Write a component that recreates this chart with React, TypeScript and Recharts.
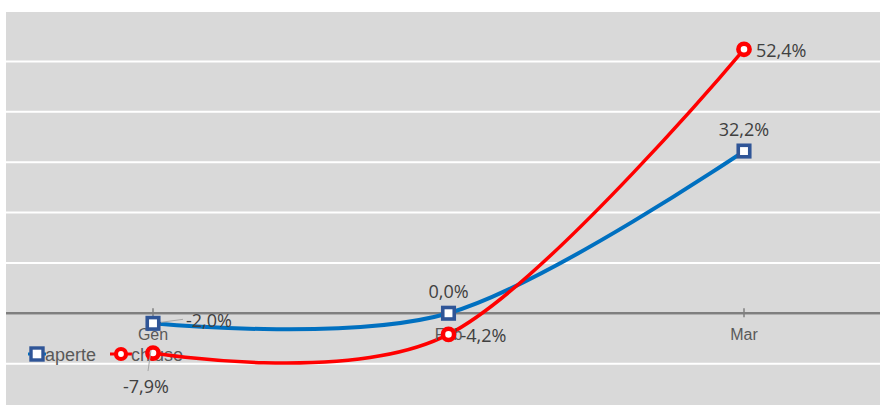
import React from 'react';
import { LineChart, Line, XAxis, YAxis, CartesianGrid, ReferenceLine, ReferenceDot, LabelList } from 'recharts';

const months = ['Gen', 'Feb', 'Mar'];
const aperte = [-2.0, 0.0, 32.2];
const chiuse = [-7.9, -4.2, 52.4];
const yTicks = [-20, -10, 0, 10, 20, 30, 40, 50, 60];

const chartData = months.map((m, i) => ({ name: m, aperte: aperte[i], chiuse: chiuse[i] }));

const BLUE = '#0070C0';
const BLUE_EDGE = '#2F5597';
const RED = '#FF0000';
const LABEL_FONT = "'Open Sans', 'DejaVu Sans', sans-serif";
const AXIS_FONT = "'Liberation Sans Narrow', 'Liberation Sans', Arial, sans-serif";

// Excel-like smoothing: cardinal spline with tension 0 (same as d3 curveCardinal)
class CardinalCurve {
  _context: any;
  _k: number;
  _line: number = NaN;
  _point = 0;
  _x0 = NaN; _x1 = NaN; _x2 = NaN;
  _y0 = NaN; _y1 = NaN; _y2 = NaN;
  constructor(context: any, tension: number) {
    this._context = context;
    this._k = (1 - tension) / 6;
  }
  areaStart() { this._line = 0; }
  areaEnd() { this._line = NaN; }
  lineStart() {
    this._x0 = this._x1 = this._x2 = this._y0 = this._y1 = this._y2 = NaN;
    this._point = 0;
  }
  bez(x: number, y: number) {
    this._context.bezierCurveTo(
      this._x1 + this._k * (this._x2 - this._x0),
      this._y1 + this._k * (this._y2 - this._y0),
      this._x2 + this._k * (this._x1 - x),
      this._y2 + this._k * (this._y1 - y),
      this._x2,
      this._y2
    );
  }
  lineEnd() {
    switch (this._point) {
      case 2: this._context.lineTo(this._x2, this._y2); break;
      case 3: this.bez(this._x1, this._y1); break;
    }
    if (this._line || (this._line !== 0 && this._point === 1)) this._context.closePath();
    this._line = 1 - this._line;
  }
  point(x: number, y: number) {
    x = +x; y = +y;
    switch (this._point) {
      case 0:
        this._point = 1;
        this._line ? this._context.lineTo(x, y) : this._context.moveTo(x, y);
        break;
      case 1:
        this._point = 2;
        this._x1 = x; this._y1 = y;
        break;
      case 2:
        this._point = 3;
        this.bez(x, y);
        break;
      default:
        this.bez(x, y);
        break;
    }
    this._x0 = this._x1; this._x1 = this._x2; this._x2 = x;
    this._y0 = this._y1; this._y1 = this._y2; this._y2 = y;
  }
}
const smooth: any = (context: any) => new CardinalCurve(context, 0);

// label placement per point, per series
const aperteLabels = [
  { dx: 33, dy: -3, anchor: 'start', leader: [8, -1, 30, -4] },
  { dx: 0, dy: -22, anchor: 'middle' },
  { dx: 0, dy: -22, anchor: 'middle' },
];
const chiuseLabels = [
  { dx: -7, dy: 33, anchor: 'middle', leader: [-2, -3, -5, 18] },
  { dx: 12, dy: 1, anchor: 'start' },
  { dx: 12, dy: 1, anchor: 'start' },
];

const fmt = (v: number) => v.toFixed(1).replace('.', ',') + '%';

const makeLabel = (placements: any[]) => (props: any) => {
  const { x, y, value, index } = props;
  const p = placements[index];
  if (!p) return null;
  return (
    <g>
      {p.leader && (
        <line
          x1={x + p.leader[0]} y1={y + p.leader[1]}
          x2={x + p.leader[2]} y2={y + p.leader[3]}
          stroke="#a6a6a6" strokeWidth={1}
        />
      )}
      <text
        x={x + p.dx} y={y + p.dy}
        textAnchor={p.anchor} dominantBaseline="central"
        fontFamily={LABEL_FONT} fontSize={18} fill="#404040"
      >
        {fmt(value)}
      </text>
    </g>
  );
};

const SquareDot = (props: any) => {
  const { cx, cy } = props;
  if (cx == null || cy == null) return null;
  return <rect x={cx - 5.75} y={cy - 5.75} width={11.5} height={11.5} fill="#fff" stroke={BLUE_EDGE} strokeWidth={3.6} />;
};

const CircleDot = (props: any) => {
  const { cx, cy } = props;
  if (cx == null || cy == null) return null;
  return <circle cx={cx} cy={cy} r={5.6} fill="#fff" stroke={RED} strokeWidth={4.6} />;
};

const AxisTick = (props: any) => {
  const { cx, cy, label } = props;
  return (
    <g>
      <line x1={cx} x2={cx} y1={cy - 5} y2={cy + 4} stroke="#7f7f7f" strokeWidth={1.5} />
      <text x={cx} y={cy + 21} textAnchor="middle" dominantBaseline="central" fontFamily={AXIS_FONT} fontSize={16} fill="#595959">
        {label}
      </text>
    </g>
  );
};

const LegendSvg = () => (
  <g fontFamily={AXIS_FONT} fontSize={18} fill="#595959">
    <line x1={28} x2={46} y1={354} y2={354} stroke={BLUE} strokeWidth={3} />
    <rect x={31} y={348} width={12} height={12} fill="#fff" stroke={BLUE_EDGE} strokeWidth={3.4} />
    <text x={45} y={355} dominantBaseline="central">aperte</text>
    <line x1={110} x2={132} y1={354} y2={354} stroke={RED} strokeWidth={3} />
    <circle cx={121} cy={354} r={5} fill="#fff" stroke={RED} strokeWidth={4.2} />
    <text x={131} y={355} dominantBaseline="central">chiuse</text>
  </g>
);

export default function App() {
  return (
    <div style={{ position: 'fixed', left: 0, top: 0, width: 880, height: 405, overflow: 'hidden', background: '#fff' }}>
      <LineChart width={891} height={414} data={chartData} margin={{ top: 11, right: 0, bottom: 0, left: 6 }}>
        <CartesianGrid vertical={false} fill="#d9d9d9" stroke="#ffffff" strokeWidth={2} />
        <XAxis dataKey="name" hide padding={{ left: 147, right: 147 }} />
        <YAxis hide domain={[-20, 60]} ticks={yTicks} />
        <ReferenceLine y={0} stroke="#7f7f7f" strokeWidth={2.5} />
        {months.map((m) => (
          <ReferenceDot key={m} x={m} y={0} r={0} shape={(p: any) => <AxisTick {...p} label={m} />} />
        ))}
        <LegendSvg />
        <Line
          dataKey="aperte"
          type={smooth}
          stroke={BLUE}
          strokeWidth={4}
          dot={<SquareDot />}
          activeDot={false}
          isAnimationActive={false}
        >
          <LabelList dataKey="aperte" content={makeLabel(aperteLabels)} />
        </Line>
        <Line
          dataKey="chiuse"
          type={smooth}
          stroke={RED}
          strokeWidth={3.5}
          dot={<CircleDot />}
          activeDot={false}
          isAnimationActive={false}
        >
          <LabelList dataKey="chiuse" content={makeLabel(chiuseLabels)} />
        </Line>
      </LineChart>
    </div>
  );
}
